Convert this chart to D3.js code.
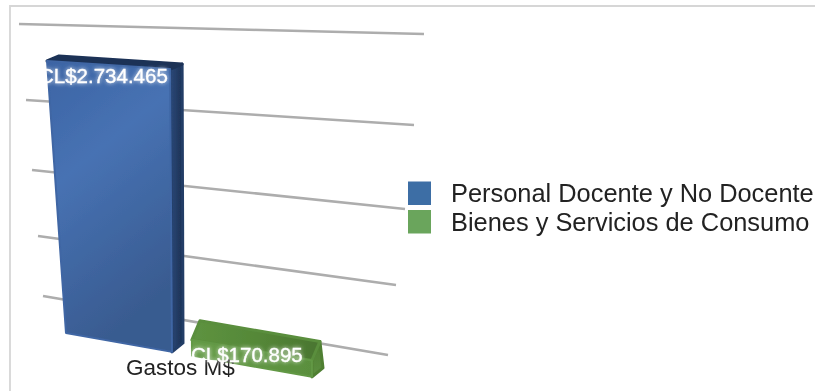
<!DOCTYPE html>
<html><head><meta charset="utf-8">
<script src="https://cdn.jsdelivr.net/npm/d3@7"></script>
<style>html,body{margin:0;padding:0;background:#fff;overflow:hidden}svg{display:block}text{font-family:"Liberation Sans",Arial,sans-serif}</style>
</head><body><svg id="c" width="815" height="391"></svg>
<script>
const seriesNames = ["Personal Docente y No Docente","Bienes y Servicios de Consumo"];
const seriesValues = [2734465,170895];
const valueLabels = ["CL$2.734.465","CL$170.895"];
const categoryName = "Gastos M$";
const gridTicks = [0,750000,1500000,2250000,3000000];

const svg = d3.select("#c");
const defs = svg.append("defs");
defs.append("filter").attr("id","soft").attr("x","-5%").attr("y","-5%").attr("width","110%").attr("height","110%")
  .append("feGaussianBlur").attr("stdDeviation",0.7);
const glow = defs.append("filter").attr("id","glow").attr("x","-15%").attr("y","-40%").attr("width","130%").attr("height","180%");
glow.append("feGaussianBlur").attr("in","SourceAlpha").attr("stdDeviation",2).attr("result","b");
glow.append("feFlood").attr("flood-color","#fff").attr("flood-opacity",0.8).attr("result","f");
glow.append("feComposite").attr("in","f").attr("in2","b").attr("operator","in").attr("result","s");
const gm = glow.append("feMerge"); gm.append("feMergeNode").attr("in","s"); gm.append("feMergeNode").attr("in","SourceGraphic");
function grad(id,stops,x2,y2){
  const g=defs.append("linearGradient").attr("id",id).attr("x1",0).attr("y1",0).attr("x2",x2).attr("y2",y2);
  stops.forEach(s=>g.append("stop").attr("offset",s[0]).attr("stop-color",s[1]));
}
grad("bf0",[[0,"#3c64a4"],[0.4,"#4772b3"],[1,"#395b90"]],0.35,1);
grad("bs0",[[0,"#2c4a7a"],[1,"#1b3053"]],1,0);
grad("bf1",[[0,"#669c48"],[1,"#5a8f3e"]],1,0);
grad("bs1",[[0,"#4f7f33"],[1,"#5d8f3f"]],0,1);
grad("bt1",[[0,"#5e9340"],[0.5,"#558838"],[1,"#4a7530"]],1,0);

const root = svg.append("g").attr("filter","url(#soft)");
root.append("path").attr("d",d3.line()([[815,6],[10,6],[10,391]])).attr("fill","none").attr("stroke","#d6d6d6").attr("stroke-width",1.8);

// wall grid, one scale per end-coordinate
const leftX = d3.scaleLinear().domain(gridTicks).range([43,38,32,26,19]);
const leftY = d3.scaleLinear().domain(gridTicks).range([296,236,170,100,24]);
const rightX = d3.scaleLinear().domain(gridTicks).range([388,396,405,414,424]);
const rightY = d3.scaleLinear().domain(gridTicks).range([355,285,209,125,34]);
root.append("g").selectAll("line").data(gridTicks).join("line")
  .attr("x1",leftX).attr("y1",leftY).attr("x2",rightX).attr("y2",rightY)
  .attr("stroke","#adadad").attr("stroke-width",2.6);

// bar geometry
const slot = d3.scaleLinear().domain([0,1,1.18,2.18]).range([66,172,192,312]);
const baseY = d3.scaleLinear().domain([66,313]).range([333,377]);
const vs = [0,170895,2734465];
const heightL = d3.scaleLinear().domain(vs).range([0,15,272]);
const lean = d3.scaleLinear().domain(vs).range([0,-1,-19]);
const riseAt = d3.scaleLinear().domain([66,173]).range([1,1.04]);
const depthX = d3.scaleLinear().domain(vs).range([11,8,12]);
const depthY = d3.scaleLinear().domain(vs).range([-9,-19,-5]);
const pFront=(x,v)=>{
  const t=Math.min(1,(x-66)/106);
  return [x+lean(v)*(1-t*0.9), baseY(x)-heightL(v)*riseAt(x)];
};
const pBack=(x,v)=>{const p=pFront(x,v);return [p[0]+depthX(v),p[1]+depthY(v)];};
const curve = d3.line().curve(d3.curveLinearClosed);
const palette = [
  {top:"#1b3157",front:"url(#bf0)",side:"url(#bs0)",edge:["#1b3157","#3f66a4","#223c66"]},
  {top:"url(#bt1)",front:"url(#bf1)",side:"url(#bs1)",edge:["#5a8e3d","#629845","#4f7f33"]}
];
const bars = seriesValues.map((v,i)=>({v,i,x0:slot(i*1.18),x1:slot(i*1.18+1)}));
const g = root.append("g").selectAll("g").data(bars).join("g")
  .attr("stroke-linejoin","round");
g.append("path").attr("d",d=>curve([pFront(d.x1,d.v),pBack(d.x1,d.v),pBack(d.x1,0),pFront(d.x1,0)]))
  .attr("fill",d=>palette[d.i].side).attr("stroke",d=>palette[d.i].edge[2]).attr("stroke-width",3);
g.append("path").attr("d",d=>curve([pFront(d.x0,d.v),pBack(d.x0,d.v),pBack(d.x1,d.v),pFront(d.x1,d.v)]))
  .attr("fill",d=>palette[d.i].top).attr("stroke",d=>palette[d.i].edge[0]).attr("stroke-width",3);
g.append("path").attr("d",d=>curve([pFront(d.x0,d.v),pFront(d.x1,d.v),pFront(d.x1,0),pFront(d.x0,0)]))
  .attr("fill",d=>palette[d.i].front).attr("stroke",d=>palette[d.i].edge[1]).attr("stroke-width",2);

// category label
root.append("text").attr("x",126).attr("y",375).attr("font-size",22.5).attr("fill","#222").text(categoryName);

// value labels
const labelX = d3.scaleOrdinal().domain(seriesNames).range([39,191]);
const labelY = d3.scaleOrdinal().domain(seriesNames).range([83,362]);
root.append("g").selectAll("text").data(seriesNames).join("text")
  .attr("x",d=>labelX(d)).attr("y",d=>labelY(d))
  .attr("font-size",20.5).attr("fill","#fff").attr("stroke","#fff").attr("stroke-width",0.35).attr("filter","url(#glow)")
  .text((d,i)=>valueLabels[i]);

// legend
const legendY = d3.scalePoint().domain(seriesNames).range([194,222.5]);
const legendColor = d3.scaleOrdinal().domain(seriesNames).range(["#3e6ea5","#6aa55c"]);
const lg = root.append("g").selectAll("g").data(seriesNames).join("g");
lg.append("rect").attr("x",408).attr("y",d=>legendY(d)-12.5).attr("width",23).attr("height",23.5).attr("fill",legendColor);
lg.append("text").attr("x",451).attr("y",d=>legendY(d)+8).attr("font-size",25.4).attr("fill","#222").text(d=>d);
</script></body></html>
